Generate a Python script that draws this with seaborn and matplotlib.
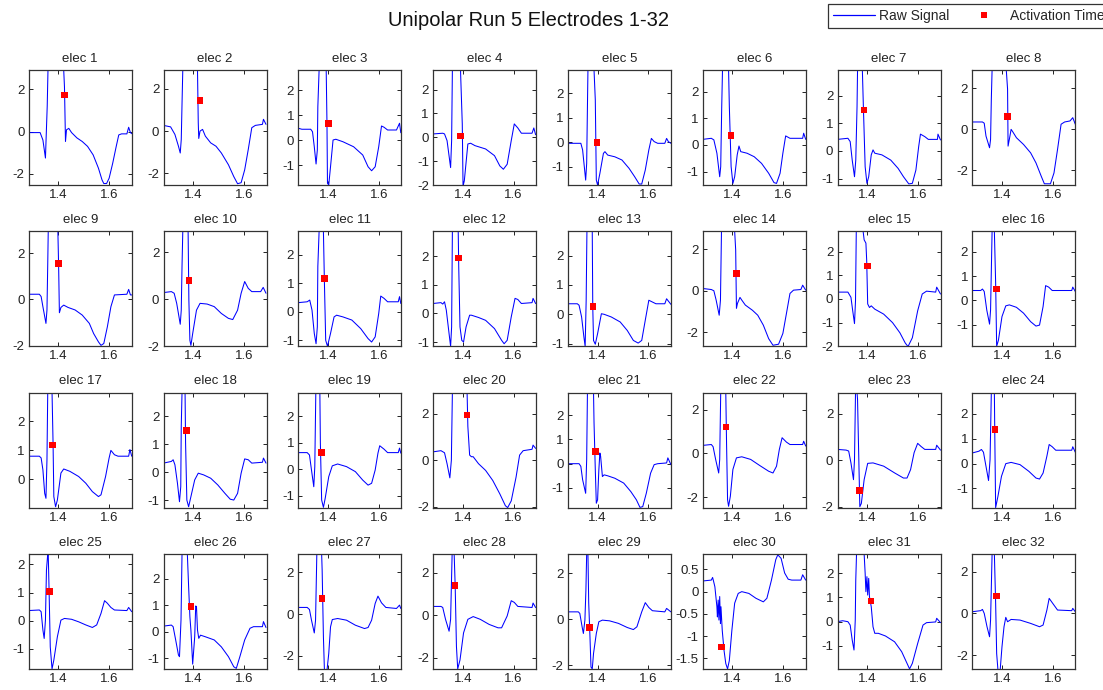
import matplotlib
matplotlib.use("Agg")
import matplotlib.pyplot as plt
from matplotlib.lines import Line2D
from matplotlib.ticker import MultipleLocator, FormatStrFormatter
import seaborn as sns

# Raw unipolar signals, one time/value pair of lists per electrode
t01 = [1.283, 1.328, 1.339, 1.349, 1.356, 1.359, 1.362, 1.421, 1.424, 1.428, 1.432, 1.441, 1.452, 1.473, 1.494, 1.515, 1.537, 1.558, 1.572, 1.579, 1.590, 1.600, 1.614, 1.628, 1.638, 1.649, 1.670, 1.677, 1.684, 1.689]
v01 = [-0.05, -0.05, -0.4, -1.25, 1.2, 2.9, 2.9, 2.9, 2.1, -0.47, 0.08, 0.15, -0.05, -0.3, -0.47, -0.7, -1.1, -1.73, -2.28, -2.45, -2.45, -2.2, -1.5, -0.7, -0.16, -0.11, -0.11, 0.2, -0.05, -0.1]
t02 = [1.283, 1.311, 1.328, 1.342, 1.349, 1.353, 1.356, 1.359, 1.417, 1.420, 1.422, 1.427, 1.437, 1.448, 1.469, 1.490, 1.511, 1.539, 1.560, 1.575, 1.589, 1.603, 1.617, 1.631, 1.645, 1.673, 1.677, 1.687]
v02 = [0.27, 0.2, -0.16, -0.72, -1.04, -0.4, 1.28, 2.9, 2.9, 0.4, -0.35, 0.0, 0.08, -0.24, -0.56, -0.72, -1.04, -1.6, -2.16, -2.5, -2.45, -1.84, -0.88, 0.16, 0.27, 0.32, 0.56, 0.32]
t03 = [1.283, 1.297, 1.332, 1.339, 1.346, 1.353, 1.358, 1.360, 1.365, 1.389, 1.393, 1.396, 1.398, 1.403, 1.410, 1.420, 1.431, 1.459, 1.501, 1.537, 1.558, 1.572, 1.586, 1.600, 1.611, 1.621, 1.635, 1.670, 1.682, 1.687]
v03 = [0.47, 0.43, 0.43, 0.33, -0.27, -0.96, -0.4, 1.33, 2.8, 2.8, 2.8, 0.67, -1.73, -1.8, -1.07, 0.0, 0.03, -0.07, -0.27, -0.6, -1.07, -1.23, -1.07, -0.27, 0.56, 0.51, 0.4, 0.4, 0.67, 0.29]
t04 = [1.283, 1.321, 1.328, 1.338, 1.352, 1.356, 1.359, 1.391, 1.398, 1.401, 1.406, 1.420, 1.431, 1.448, 1.490, 1.525, 1.546, 1.560, 1.575, 1.591, 1.603, 1.617, 1.631, 1.673, 1.680, 1.687]
v04 = [0.14, 0.17, 0.14, -0.14, -1.27, -0.14, 2.82, 2.82, 0.56, -2.04, -1.83, -0.28, -0.25, -0.35, -0.49, -0.77, -1.2, -1.34, -1.13, -0.14, 0.56, 0.39, 0.17, 0.17, 0.39, 0.11]
t05 = [1.283, 1.334, 1.341, 1.353, 1.357, 1.360, 1.362, 1.386, 1.391, 1.395, 1.400, 1.409, 1.423, 1.429, 1.440, 1.468, 1.496, 1.524, 1.546, 1.564, 1.574, 1.588, 1.602, 1.612, 1.623, 1.637, 1.665, 1.672, 1.679, 1.689]
v05 = [-0.04, -0.04, -0.31, -1.54, -0.86, 1.46, 2.95, 2.95, 1.73, -1.54, -1.74, -1.27, -0.45, -0.38, -0.52, -0.59, -0.72, -1.06, -1.4, -1.7, -1.7, -1.13, -0.31, 0.16, 0.03, -0.04, -0.04, 0.16, 0.03, -0.04]
t06 = [1.283, 1.317, 1.327, 1.339, 1.350, 1.354, 1.358, 1.361, 1.385, 1.388, 1.395, 1.402, 1.409, 1.419, 1.426, 1.433, 1.458, 1.486, 1.515, 1.543, 1.564, 1.574, 1.588, 1.599, 1.610, 1.627, 1.677, 1.681, 1.689]
v06 = [0.21, 0.25, 0.19, -0.31, -1.19, -0.81, 1.44, 2.81, 2.81, 1.44, -0.81, -1.44, -1.19, -0.37, -0.04, -0.25, -0.31, -0.44, -0.69, -1.06, -1.41, -1.44, -1.06, -0.31, 0.34, 0.25, 0.25, 0.44, 0.21]
t07 = [1.283, 1.324, 1.333, 1.341, 1.350, 1.355, 1.360, 1.362, 1.381, 1.385, 1.392, 1.399, 1.406, 1.416, 1.423, 1.430, 1.458, 1.493, 1.522, 1.543, 1.564, 1.578, 1.592, 1.603, 1.610, 1.627, 1.641, 1.677, 1.679, 1.689]
v07 = [0.42, 0.46, 0.34, -0.33, -0.93, -0.33, 1.6, 2.93, 2.93, 1.6, -0.57, -1.17, -0.93, -0.14, 0.04, -0.08, -0.14, -0.33, -0.63, -0.93, -1.19, -1.17, -0.69, 0.16, 0.61, 0.52, 0.42, 0.42, 0.61, 0.4]
t08 = [1.283, 1.323, 1.330, 1.337, 1.351, 1.355, 1.358, 1.361, 1.417, 1.422, 1.424, 1.429, 1.436, 1.443, 1.457, 1.485, 1.513, 1.534, 1.555, 1.567, 1.591, 1.605, 1.619, 1.633, 1.647, 1.668, 1.679, 1.689]
v08 = [0.36, 0.36, 0.3, -0.33, -0.9, -0.49, 1.48, 2.9, 2.9, 1.97, -0.82, -0.49, 0.0, -0.13, -0.41, -0.74, -1.15, -1.64, -2.3, -2.66, -2.66, -2.13, -0.98, 0.25, 0.36, 0.41, 0.57, 0.25]
t09 = [1.283, 1.325, 1.332, 1.339, 1.351, 1.355, 1.358, 1.360, 1.398, 1.401, 1.404, 1.410, 1.421, 1.438, 1.466, 1.494, 1.522, 1.539, 1.558, 1.568, 1.579, 1.593, 1.607, 1.621, 1.670, 1.677, 1.684, 1.689]
v09 = [0.22, 0.22, 0.12, -0.32, -1.04, -0.46, 1.49, 2.94, 2.94, 1.42, -0.58, -0.35, -0.25, -0.35, -0.46, -0.68, -1.04, -1.48, -1.84, -1.99, -1.91, -1.19, -0.32, 0.19, 0.22, 0.43, 0.19, 0.19]
t10 = [1.283, 1.314, 1.325, 1.335, 1.349, 1.353, 1.356, 1.359, 1.380, 1.383, 1.387, 1.391, 1.398, 1.413, 1.427, 1.455, 1.483, 1.511, 1.539, 1.556, 1.575, 1.589, 1.603, 1.617, 1.631, 1.666, 1.676, 1.687]
v10 = [0.29, 0.33, 0.26, -0.17, -1.06, -0.46, 1.4, 2.9, 2.9, -0.03, -1.74, -1.96, -1.46, -0.46, -0.17, -0.2, -0.31, -0.6, -0.81, -0.86, -0.46, 0.26, 0.76, 0.47, 0.33, 0.33, 0.51, 0.26]
t11 = [1.283, 1.318, 1.328, 1.337, 1.346, 1.353, 1.358, 1.360, 1.365, 1.382, 1.386, 1.391, 1.398, 1.410, 1.424, 1.434, 1.459, 1.494, 1.529, 1.558, 1.572, 1.586, 1.600, 1.608, 1.621, 1.635, 1.677, 1.682, 1.687]
v11 = [0.32, 0.35, 0.41, 0.06, -0.76, -1.12, -0.53, 1.59, 2.82, 2.82, 1.0, -1.0, -1.21, -0.76, -0.18, -0.12, -0.18, -0.29, -0.59, -0.94, -1.06, -0.88, -0.06, 0.55, 0.47, 0.35, 0.35, 0.53, 0.29]
t12 = [1.283, 1.314, 1.321, 1.328, 1.335, 1.346, 1.352, 1.356, 1.359, 1.382, 1.384, 1.389, 1.396, 1.403, 1.413, 1.427, 1.434, 1.462, 1.490, 1.525, 1.553, 1.563, 1.575, 1.591, 1.606, 1.617, 1.631, 1.673, 1.677, 1.687]
v12 = [0.35, 0.38, 0.33, 0.41, 0.12, -0.71, -1.15, -0.47, 2.88, 2.88, 1.65, -0.47, -0.94, -1.0, -0.47, -0.06, -0.06, -0.14, -0.24, -0.53, -0.94, -1.06, -0.94, -0.12, 0.53, 0.49, 0.35, 0.38, 0.53, 0.35]
t13 = [1.283, 1.320, 1.327, 1.337, 1.346, 1.351, 1.355, 1.358, 1.379, 1.381, 1.384, 1.391, 1.400, 1.415, 1.426, 1.454, 1.489, 1.517, 1.541, 1.560, 1.574, 1.588, 1.602, 1.616, 1.630, 1.665, 1.672, 1.689]
v13 = [0.36, 0.36, 0.31, -0.09, -0.77, -1.09, 0.48, 2.83, 2.83, 0.25, -0.89, -1.02, -0.66, 0.02, 0.0, -0.09, -0.26, -0.55, -0.89, -0.98, -0.89, -0.2, 0.48, 0.42, 0.36, 0.36, 0.53, 0.34]
t14 = [1.283, 1.317, 1.327, 1.336, 1.348, 1.353, 1.357, 1.409, 1.413, 1.416, 1.420, 1.430, 1.437, 1.451, 1.479, 1.500, 1.522, 1.543, 1.560, 1.582, 1.599, 1.613, 1.627, 1.641, 1.670, 1.677, 1.689]
v14 = [0.11, 0.06, 0.0, -0.45, -1.18, -0.45, 2.87, 2.87, 1.97, -0.85, -0.61, -0.32, -0.45, -0.69, -0.94, -1.18, -1.66, -2.31, -2.63, -2.58, -2.06, -1.1, -0.13, 0.03, 0.06, 0.27, 0.03]
t15 = [1.283, 1.324, 1.336, 1.343, 1.350, 1.354, 1.357, 1.384, 1.388, 1.395, 1.398, 1.402, 1.409, 1.416, 1.430, 1.465, 1.500, 1.529, 1.550, 1.561, 1.578, 1.599, 1.617, 1.634, 1.670, 1.674, 1.689]
v15 = [0.29, 0.29, 0.07, -0.5, -1.04, -0.07, 2.86, 2.86, 2.5, 2.36, 1.64, -0.21, -0.36, -0.29, -0.43, -0.64, -1.0, -1.43, -1.86, -2.01, -1.64, -0.5, 0.21, 0.33, 0.29, 0.5, 0.21]
t16 = [1.283, 1.316, 1.323, 1.330, 1.340, 1.351, 1.355, 1.361, 1.365, 1.370, 1.375, 1.379, 1.386, 1.400, 1.415, 1.429, 1.457, 1.485, 1.513, 1.534, 1.548, 1.562, 1.572, 1.584, 1.598, 1.675, 1.679, 1.689]
v16 = [0.41, 0.41, 0.47, 0.37, -0.39, -0.97, -0.39, 2.84, 2.84, 2.84, 0.72, -1.88, -1.63, -0.66, -0.22, -0.18, -0.28, -0.52, -0.87, -1.05, -1.01, -0.25, 0.61, 0.55, 0.41, 0.41, 0.55, 0.37]
t17 = [1.283, 1.325, 1.332, 1.339, 1.346, 1.351, 1.355, 1.358, 1.375, 1.379, 1.382, 1.389, 1.396, 1.410, 1.421, 1.445, 1.480, 1.508, 1.534, 1.558, 1.568, 1.586, 1.600, 1.607, 1.621, 1.635, 1.677, 1.682, 1.689]
v17 = [0.79, 0.79, 0.73, 0.32, -0.49, -0.66, 0.67, 2.98, 2.98, 1.25, -0.6, -0.95, -0.72, 0.21, 0.35, 0.27, 0.09, -0.14, -0.43, -0.6, -0.54, 0.09, 0.73, 0.99, 0.84, 0.79, 0.79, 1.02, 0.79]
t18 = [1.283, 1.314, 1.321, 1.328, 1.338, 1.346, 1.351, 1.353, 1.356, 1.368, 1.370, 1.375, 1.382, 1.391, 1.406, 1.420, 1.441, 1.469, 1.497, 1.525, 1.546, 1.560, 1.575, 1.589, 1.603, 1.617, 1.631, 1.673, 1.677, 1.687]
v18 = [0.32, 0.38, 0.44, 0.26, -0.4, -1.06, -0.52, 1.64, 2.84, 2.84, 1.04, -1.0, -1.24, -0.88, -0.28, -0.04, -0.1, -0.22, -0.46, -0.76, -0.97, -1.0, -0.76, -0.04, 0.47, 0.44, 0.32, 0.35, 0.5, 0.32]
t19 = [1.283, 1.318, 1.327, 1.335, 1.344, 1.348, 1.352, 1.368, 1.370, 1.375, 1.382, 1.389, 1.403, 1.417, 1.438, 1.473, 1.508, 1.537, 1.558, 1.572, 1.586, 1.597, 1.604, 1.621, 1.635, 1.677, 1.682, 1.687]
v19 = [0.63, 0.63, 0.54, -0.03, -0.66, 0.1, 2.9, 2.9, 0.99, -1.16, -1.44, -1.1, -0.28, 0.13, 0.2, 0.1, -0.09, -0.41, -0.6, -0.53, -0.03, 0.61, 0.89, 0.76, 0.63, 0.63, 0.8, 0.61]
t20 = [1.283, 1.314, 1.328, 1.338, 1.349, 1.355, 1.359, 1.417, 1.420, 1.427, 1.434, 1.441, 1.462, 1.490, 1.518, 1.546, 1.568, 1.577, 1.591, 1.610, 1.624, 1.638, 1.673, 1.677, 1.687]
v20 = [0.36, 0.41, 0.32, -0.15, -0.76, 0.0, 2.91, 2.91, 1.45, 0.22, 0.15, 0.15, -0.15, -0.44, -0.87, -1.45, -1.96, -2.04, -1.75, -0.73, 0.22, 0.41, 0.47, 0.65, 0.51]
t21 = [1.283, 1.327, 1.334, 1.341, 1.353, 1.357, 1.360, 1.384, 1.386, 1.391, 1.395, 1.400, 1.405, 1.409, 1.412, 1.419, 1.426, 1.440, 1.468, 1.503, 1.531, 1.553, 1.567, 1.578, 1.592, 1.609, 1.623, 1.637, 1.672, 1.677, 1.689]
v21 = [0.0, 0.0, -0.11, -0.66, -1.22, 0.17, 2.93, 2.93, 1.69, -0.25, -1.63, -1.49, -0.25, 0.44, 0.3, -0.53, -0.46, -0.5, -0.6, -0.8, -1.15, -1.49, -1.8, -1.77, -1.22, -0.39, -0.04, 0.0, 0.03, 0.24, -0.04]
t22 = [1.283, 1.317, 1.324, 1.334, 1.346, 1.350, 1.354, 1.374, 1.377, 1.381, 1.385, 1.392, 1.402, 1.416, 1.437, 1.472, 1.508, 1.543, 1.560, 1.574, 1.585, 1.596, 1.613, 1.627, 1.677, 1.681, 1.689]
v22 = [0.37, 0.41, 0.31, -0.27, -0.89, -0.27, 2.78, 2.78, 0.49, -2.11, -2.41, -1.95, -0.73, -0.2, -0.15, -0.27, -0.55, -0.81, -0.89, -0.58, 0.18, 0.72, 0.52, 0.41, 0.41, 0.56, 0.34]
t23 = [1.283, 1.317, 1.327, 1.336, 1.346, 1.350, 1.354, 1.360, 1.362, 1.367, 1.371, 1.377, 1.388, 1.402, 1.423, 1.465, 1.508, 1.543, 1.557, 1.571, 1.585, 1.599, 1.613, 1.627, 1.670, 1.674, 1.689]
v23 = [0.46, 0.43, 0.39, -0.12, -0.84, 0.03, 2.9, 2.9, 2.61, 0.03, -2.0, -1.86, -0.84, -0.14, -0.12, -0.26, -0.55, -0.77, -0.77, -0.41, 0.32, 0.72, 0.58, 0.46, 0.46, 0.64, 0.43]
t24 = [1.283, 1.309, 1.319, 1.327, 1.337, 1.347, 1.353, 1.358, 1.370, 1.372, 1.375, 1.384, 1.398, 1.415, 1.436, 1.471, 1.506, 1.534, 1.548, 1.562, 1.577, 1.586, 1.598, 1.612, 1.675, 1.679, 1.689]
v24 = [0.43, 0.5, 0.57, 0.46, -0.11, -0.68, 0.16, 2.86, 2.86, 0.84, -1.77, -1.32, -0.51, 0.0, 0.05, -0.04, -0.31, -0.58, -0.62, -0.38, 0.3, 0.77, 0.68, 0.54, 0.54, 0.68, 0.46]
t25 = [1.283, 1.325, 1.332, 1.339, 1.344, 1.349, 1.353, 1.358, 1.360, 1.363, 1.368, 1.375, 1.382, 1.396, 1.410, 1.424, 1.452, 1.480, 1.508, 1.534, 1.551, 1.568, 1.582, 1.593, 1.607, 1.621, 1.670, 1.677, 1.689]
v25 = [0.36, 0.38, 0.32, -0.33, -0.63, 0.02, 1.8, 2.37, 2.37, 1.21, -0.93, -1.71, -1.4, -0.57, 0.02, 0.08, 0.05, -0.04, -0.15, -0.24, -0.15, 0.26, 0.71, 0.62, 0.47, 0.38, 0.36, 0.47, 0.32]
t26 = [1.283, 1.314, 1.321, 1.331, 1.342, 1.346, 1.352, 1.356, 1.377, 1.382, 1.387, 1.391, 1.398, 1.406, 1.410, 1.413, 1.417, 1.422, 1.429, 1.448, 1.483, 1.511, 1.539, 1.560, 1.570, 1.584, 1.603, 1.624, 1.638, 1.673, 1.677, 1.687]
v26 = [0.21, 0.25, 0.19, -0.31, -0.88, -0.94, 0.44, 2.93, 2.93, 1.7, 0.57, 0.06, -1.22, -0.19, 0.97, 0.94, 0.06, -0.25, -0.13, -0.19, -0.31, -0.57, -0.94, -1.32, -1.38, -0.94, -0.31, 0.13, 0.19, 0.19, 0.38, 0.16]
t27 = [1.283, 1.318, 1.327, 1.335, 1.346, 1.351, 1.356, 1.375, 1.377, 1.382, 1.386, 1.396, 1.403, 1.410, 1.417, 1.438, 1.473, 1.508, 1.544, 1.558, 1.572, 1.586, 1.597, 1.611, 1.628, 1.670, 1.682, 1.687]
v27 = [0.32, 0.32, 0.22, -0.29, -0.9, -0.29, 2.88, 2.88, 2.11, -1.09, -2.7, -2.7, -1.89, -0.61, -0.26, -0.21, -0.29, -0.53, -0.69, -0.64, -0.29, 0.51, 0.86, 0.54, 0.32, 0.27, 0.43, 0.27]
t28 = [1.283, 1.314, 1.321, 1.332, 1.346, 1.352, 1.358, 1.366, 1.370, 1.375, 1.380, 1.389, 1.403, 1.420, 1.441, 1.469, 1.504, 1.539, 1.553, 1.575, 1.591, 1.603, 1.617, 1.673, 1.677, 1.687]
v28 = [0.42, 0.42, 0.37, -0.19, -0.75, -0.19, 2.9, 2.9, 1.41, -1.47, -2.53, -2.11, -0.83, -0.19, -0.06, -0.19, -0.43, -0.59, -0.59, -0.03, 0.69, 0.61, 0.42, 0.37, 0.58, 0.37]
t29 = [1.283, 1.324, 1.330, 1.339, 1.344, 1.350, 1.354, 1.357, 1.362, 1.365, 1.370, 1.374, 1.379, 1.384, 1.395, 1.405, 1.419, 1.447, 1.482, 1.517, 1.541, 1.555, 1.574, 1.588, 1.602, 1.616, 1.665, 1.672, 1.689]
v29 = [0.33, 0.33, 0.26, -0.32, -0.61, -0.03, 1.28, 2.85, 2.85, 0.73, -0.76, -2.07, -2.15, -1.48, -0.61, -0.1, -0.03, -0.06, -0.17, -0.35, -0.44, -0.32, 0.33, 0.73, 0.52, 0.38, 0.33, 0.48, 0.33]
t30 = [1.283, 1.317, 1.322, 1.326, 1.331, 1.339, 1.341, 1.344, 1.347, 1.350, 1.353, 1.355, 1.360, 1.367, 1.374, 1.381, 1.388, 1.398, 1.409, 1.423, 1.437, 1.465, 1.493, 1.522, 1.536, 1.554, 1.571, 1.579, 1.592, 1.606, 1.620, 1.634, 1.670, 1.677, 1.689]
v30 = [0.24, 0.26, 0.32, 0.23, 0.11, -0.34, -0.57, -0.19, -0.64, -0.11, -0.72, -0.34, -0.87, -1.32, -1.62, -1.74, -1.55, -0.87, -0.26, -0.04, 0.0, -0.04, -0.15, -0.23, -0.15, 0.26, 0.72, 0.83, 0.75, 0.42, 0.28, 0.26, 0.26, 0.38, 0.26]
t31 = [1.283, 1.303, 1.324, 1.333, 1.341, 1.348, 1.353, 1.355, 1.358, 1.388, 1.392, 1.395, 1.399, 1.402, 1.406, 1.409, 1.416, 1.423, 1.430, 1.444, 1.472, 1.508, 1.536, 1.557, 1.567, 1.578, 1.599, 1.620, 1.634, 1.670, 1.674, 1.689]
v31 = [0.0, 0.04, 0.0, -0.14, -0.76, -1.17, 0.07, 1.72, 2.8, 2.8, 2.0, 1.24, 1.86, 1.1, 1.79, 1.03, 0.62, -0.21, -0.48, -0.48, -0.59, -0.83, -1.24, -1.72, -1.95, -1.72, -0.9, -0.14, -0.04, -0.01, 0.14, -0.04]
t32 = [1.283, 1.316, 1.323, 1.330, 1.341, 1.351, 1.355, 1.361, 1.370, 1.375, 1.379, 1.384, 1.393, 1.400, 1.408, 1.415, 1.422, 1.436, 1.471, 1.513, 1.548, 1.562, 1.577, 1.586, 1.600, 1.619, 1.675, 1.679, 1.689]
v32 = [0.08, 0.13, 0.19, 0.0, -0.64, -1.12, -0.32, 2.85, 2.85, 0.48, -1.92, -2.7, -2.7, -1.6, -0.64, -0.19, -0.4, -0.29, -0.32, -0.48, -0.64, -0.56, 0.16, 0.72, 0.48, 0.16, 0.13, 0.24, 0.08]

# Activation time markers (time, signal value)
act_t = [1.425, 1.427, 1.403, 1.391, 1.398, 1.395, 1.388, 1.422, 1.400, 1.384, 1.386, 1.384, 1.381, 1.416, 1.402, 1.379,
         1.376, 1.373, 1.375, 1.417, 1.391, 1.374, 1.370, 1.372, 1.365, 1.391, 1.377, 1.370, 1.369, 1.357, 1.416, 1.379]
act_v = [1.73, 1.44, 0.67, 0.06, 0.0, 0.35, 1.48, 0.62, 1.54, 0.8, 1.16, 1.94, 0.27, 0.84, 1.39, 0.47,
         1.18, 1.48, 0.63, 1.95, 0.51, 1.22, -1.3, 1.38, 1.03, 0.94, 0.75, 1.41, -0.36, -1.25, 0.86, 0.83]

# y limits and tick step of each panel
y_lo = [-2.52, -2.56, -1.8, -2.0, -1.74, -1.5, -1.23, -2.72, -2.03, -2.0, -1.21, -1.15, -1.09, -2.68, -2.0, -1.88,
        -0.98, -1.27, -1.45, -2.04, -1.81, -2.47, -2.04, -1.77, -1.71, -1.4, -2.62, -2.53, -2.15, -1.74, -1.95, -2.66]
y_hi = [2.9, 2.9, 2.8, 2.82, 2.95, 2.81, 2.93, 2.9, 2.94, 2.9, 2.82, 2.88, 2.83, 2.87, 2.86, 2.84,
        2.98, 2.84, 2.9, 2.91, 2.93, 2.78, 2.9, 2.86, 2.37, 2.93, 2.88, 2.9, 2.85, 0.85, 2.8, 2.85]
y_step = [2, 2, 1, 1, 1, 1, 1, 2, 2, 2, 1, 1, 1, 2, 1, 1,
          1, 1, 1, 2, 1, 2, 2, 1, 1, 1, 2, 2, 2, 0.5, 1, 2]

signals = [(t01, v01), (t02, v02), (t03, v03), (t04, v04), (t05, v05), (t06, v06), (t07, v07), (t08, v08),
           (t09, v09), (t10, v10), (t11, v11), (t12, v12), (t13, v13), (t14, v14), (t15, v15), (t16, v16),
           (t17, v17), (t18, v18), (t19, v19), (t20, v20), (t21, v21), (t22, v22), (t23, v23), (t24, v24),
           (t25, v25), (t26, v26), (t27, v27), (t28, v28), (t29, v29), (t30, v30), (t31, v31), (t32, v32)]

sns.set_style("ticks")
plt.rcParams['font.family'] = ['Liberation Sans', 'DejaVu Sans']
plt.rcParams['axes.unicode_minus'] = False

W, H = 1103, 690
fig = plt.figure(figsize=(W / 100, H / 100), dpi=100)
fig.patch.set_facecolor('white')

for i, (t, v) in enumerate(signals):
    row, col = divmod(i, 8)
    left = 28.7 + 134.8 * col
    top = 70 + 161.3 * row
    ax = fig.add_axes([left / W, 1 - (top + 115) / H, 103 / W, 115 / H])

    sns.lineplot(x=t, y=v, ax=ax, sort=False, estimator=None, color='#0000ff', lw=0.75)
    sns.scatterplot(x=[act_t[i]], y=[act_v[i]], ax=ax, marker='s', color='red', s=22,
                    edgecolor='none', zorder=3)

    ax.set_xlim(1.283, 1.689)
    ax.set_ylim(y_lo[i], y_hi[i])
    ax.set_xticks([1.4, 1.6])
    ax.yaxis.set_major_locator(MultipleLocator(y_step[i]))
    ax.yaxis.set_major_formatter(FormatStrFormatter('%g'))
    ax.set_xlabel('')
    ax.set_ylabel('')
    ax.set_title('elec %d' % (i + 1), fontsize=9.5, pad=6, color='#222222')
    ax.tick_params(direction='in', length=3, width=0.7, top=True, right=True,
                   labelsize=9.5, pad=3, colors='#222222')
    for s in ax.spines.values():
        s.set_visible(True)
        s.set_linewidth(0.9)
        s.set_color('#333333')

fig.suptitle('Unipolar Run 5 Electrodes 1-32', fontsize=14.5, x=528 / W, y=1 - 20 / H,
             va='center', color='#111111')

handles = [Line2D([], [], color='#0000ff', lw=0.9),
           Line2D([], [], color='red', marker='s', ls='none', markersize=4.5, markeredgewidth=0)]
leg = fig.legend(handles, ['Raw Signal', 'Activation Time'], ncol=2, loc='upper left',
                 bbox_to_anchor=(828 / W, 1 - 4 / H), fontsize=10, frameon=True, fancybox=False,
                 framealpha=1, edgecolor='#333333', handlelength=3.0, handletextpad=0.35,
                 columnspacing=1.0, borderpad=0.35, borderaxespad=0)
leg.get_frame().set_linewidth(0.9)

fig.savefig('out.png', dpi=100)
